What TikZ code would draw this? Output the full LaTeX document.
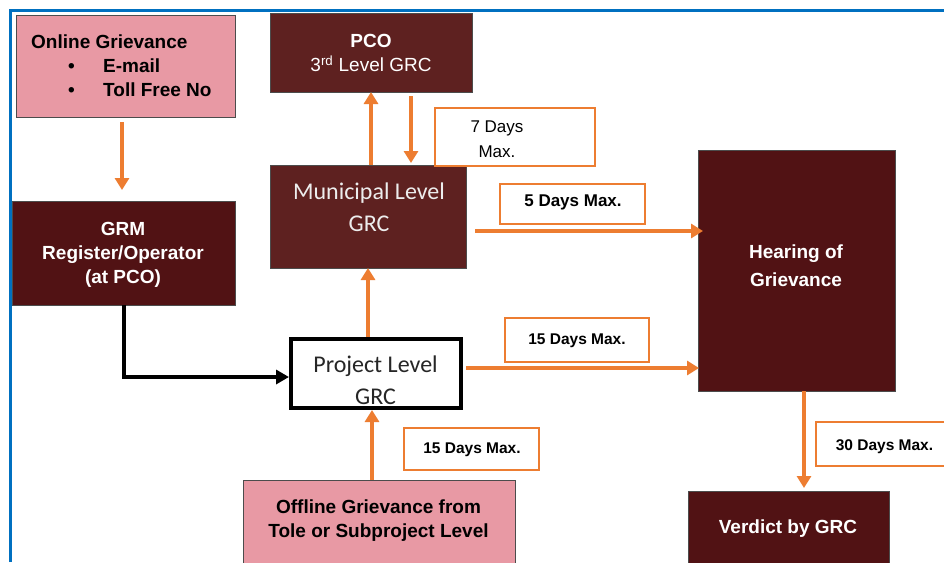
\documentclass[tikz,border=0pt]{standalone}
\usepackage{fontspec}
\setmainfont{Liberation Sans}
\newfontfamily\carlito{Carlito}
\usetikzlibrary{arrows.meta,calc}
\definecolor{pinkf}{HTML}{E899A4}
\definecolor{maroonA}{HTML}{5E2120}
\definecolor{maroonB}{HTML}{511214}
\definecolor{orng}{HTML}{ED7D31}
\definecolor{blu}{HTML}{0070C0}
\begin{document}
\begin{tikzpicture}[x=1pt,y=-1pt,
  box/.style={draw=black!70,line width=0.8pt,inner sep=0pt,outer sep=0pt},
  pinkbox/.style={box,fill=pinkf},
  darkbox/.style={box,fill=maroonB},
  brownbox/.style={box,fill=maroonA},
  daybox/.style={draw=orng,line width=1.8pt,fill=white,inner sep=0pt,outer sep=0pt},
  txt/.style={inner sep=0pt,align=center},
  btxt/.style={txt,font=\bfseries\fontsize{19}{24}\selectfont},
  wtxt/.style={btxt,text=white},
  daytxt/.style={inner sep=0pt,font=\bfseries\fontsize{15.5}{19}\selectfont,anchor=base},
  oarrow/.style={draw=orng,line width=4.5pt,-{Triangle[length=12pt,width=14pt]}},
  barrow/.style={draw=black,line width=4pt,-{Triangle[length=13pt,width=14pt]}}
]
\useasboundingbox (0,0) rectangle (944,562);
\fill[white] (0,0) rectangle (944,562);
% frame
\draw[blu,line width=3pt] (10.5,562) -- (10.5,10.5) -- (944,10.5);

% boxes
\node[pinkbox,minimum width=219pt,minimum height=102pt] (online) at (125.5,66) {};
\node[brownbox,minimum width=202pt,minimum height=79pt] (pco) at (371,52.5) {};
\node[brownbox,minimum width=196pt,minimum height=103pt] (municipal) at (368,216.5) {};
\node[darkbox,minimum width=223pt,minimum height=104pt] (grm) at (123.5,253) {};
\node[draw=black,line width=4pt,fill=white,inner sep=0pt,outer sep=2pt,minimum width=170pt,minimum height=69pt] (project) at (376,373.5) {};
\node[darkbox,minimum width=197pt,minimum height=241pt] (hearing) at (796.5,270.5) {};
\node[darkbox,minimum width=201pt,minimum height=84pt] (verdict) at (788.5,533) {};
\node[pinkbox,minimum width=272pt,minimum height=92pt] (offline) at (379,526) {};

% day boxes
\node[daybox,minimum width=160pt,minimum height=58pt] (d7) at (515,137) {};
\node[daybox,minimum width=145pt,minimum height=40pt] (d5) at (572.5,204) {};
\node[daybox,minimum width=144pt,minimum height=44pt] (d15a) at (577,340) {};
\node[daybox,minimum width=135pt,minimum height=42pt] (d15b) at (471.5,449) {};
\node[daybox,minimum width=136pt,minimum height=44pt] (d30) at (884,444) {};

% texts
\node[txt,anchor=west,align=left,font=\bfseries\fontsize{19}{24}\selectfont] (onlineT) at (31,66)
  {Online Grievance\\
   \hspace*{37pt}\makebox[35pt][l]{•}E-mail\\
   \hspace*{37pt}\makebox[35pt][l]{•}Toll Free No};
\node[txt,text=white,font=\fontsize{19}{24}\selectfont] (pcoT) at (371,53)
  {\textbf{PCO}\\3\textsuperscript{rd} Level GRC};
\node[txt,text=white!93!black,font=\carlito\fontsize{24}{32}\selectfont] (municipalT) at (369,207)
  {Municipal Level\\GRC};
\node[wtxt] (grmT) at (123,255) {GRM\\Register/Operator\\(at PCO)};
\node[txt,text=black!85,font=\carlito\fontsize{24}{32}\selectfont] (projectT) at (375.5,380)
  {Project Level\\GRC};
\node[wtxt,font=\bfseries\fontsize{19}{28}\selectfont] (hearingT) at (796,266) {Hearing of\\Grievance};
\node[wtxt] (verdictT) at (788,529) {Verdict by GRC};
\node[btxt] (offlineT) at (378.5,521) {Offline Grievance from\\Tole or Subproject Level};

\node[txt,font=\fontsize{17}{25}\selectfont] (d7T) at (497,139.5) {7 Days\\Max.};
\node[daytxt,font=\bfseries\fontsize{17}{20}\selectfont] (d5T) at (573,206) {5 Days Max.};
\node[daytxt] (d15aT) at (577,344) {15 Days Max.};
\node[daytxt] (d15bT) at (472,453) {15 Days Max.};
\node[daytxt] (d30T) at (884.5,450) {30 Days Max.};

% connectors
\draw[oarrow,shorten <=5pt,shorten >=11pt] ($(online.south)+(-3.5,0)$) -- ($(grm.north)+(-1.5,0)$);
\draw[barrow] ($(grm.south)+(0.5,0)$) |- ($(project.west)+(0,3.5)$);
\draw[oarrow] (municipal.south |- project.north) -- (municipal.south);
\draw[oarrow] (pco.south |- municipal.north) -- (pco.south);
\coordinate (dn) at ($(pco.south)+(40,0)$);
\draw[oarrow,shorten <=4pt,shorten >=2pt] (dn) -- (dn |- municipal.north);
\coordinate (m5) at ($(municipal.east)+(0,14.5)$);
\draw[oarrow,shorten <=9pt,shorten >=-5pt] (m5) -- (m5 -| hearing.west);
\coordinate (p15) at ($(project.east)+(0,-5.5)$);
\draw[oarrow,shorten <=3pt,shorten >=-1pt] (p15) -- (p15 -| hearing.west);
\coordinate (o15) at ($(offline.north)+(-7,0)$);
\draw[oarrow] (o15) -- (o15 |- project.south);
\coordinate (h30) at ($(hearing.south)+(7.5,0)$);
\draw[oarrow,shorten >=3pt] (h30) -- (h30 |- verdict.north);
\end{tikzpicture}
\end{document}
